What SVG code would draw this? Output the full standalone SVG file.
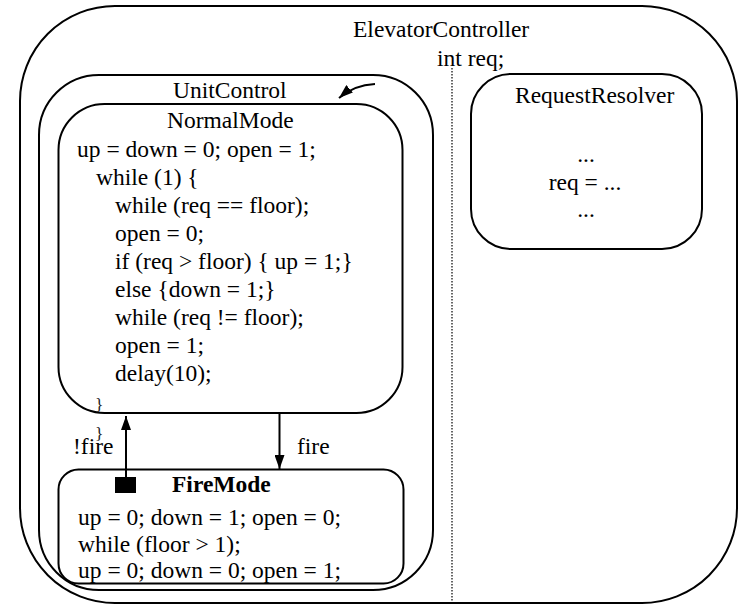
<svg xmlns="http://www.w3.org/2000/svg" width="738" height="604" viewBox="0 0 738 604">
<style>
.box{fill:none;stroke:#000;stroke-width:2}
.t{font-family:"Liberation Serif","Times New Roman",serif;font-size:23.5px;fill:#000}
.c{text-anchor:middle}
.b{font-weight:bold}
.br{font-family:"Liberation Serif","Times New Roman",serif;font-size:17.5px;fill:#222}
.ln{stroke:#000;stroke-width:2;fill:none}
</style>
<defs>
<marker id="ah" markerWidth="14" markerHeight="10" refX="14" refY="5" orient="auto" markerUnits="userSpaceOnUse">
<path d="M0,0 L14,5 L0,10 Z" fill="#000"/>
</marker>
</defs>
<rect width="738" height="604" fill="#fff"/>
<g id="ElevatorController">
<rect class="box" x="20" y="6" width="717" height="597" rx="95" ry="95"/>
<text class="t" x="353" y="37">ElevatorController</text>
<text class="t" x="437" y="66">int req;</text>
<line x1="452" y1="68" x2="452" y2="604" stroke="#000" stroke-width="1.2" stroke-dasharray="1.5,1.5"/>
</g>
<g id="UnitControl">
<rect class="box" x="39" y="75" width="394" height="515" rx="60" ry="60"/>
<text class="t" x="173" y="98">UnitControl</text>
</g>
<g id="NormalMode">
<rect class="box" x="58.5" y="104" width="344" height="309" rx="46" ry="46"/>
<text class="t" x="167" y="128">NormalMode</text>
<text class="t" x="77" y="157">up = down = 0; open = 1;</text>
<text class="t" x="96" y="185">while (1) {</text>
<text class="t" x="115" y="213">while (req == floor);</text>
<text class="t" x="115" y="241">open = 0;</text>
<text class="t" x="115" y="269">if (req &gt; floor) { up = 1;}</text>
<text class="t" x="115" y="297">else {down = 1;}</text>
<text class="t" x="115" y="325">while (req != floor);</text>
<text class="t" x="115" y="353">open = 1;</text>
<text class="t" x="115" y="381">delay(10);</text>
<text class="br" x="95" y="410">}</text>
<text class="br" x="95" y="439">}</text>
</g>
<g id="FireMode">
<rect class="box" x="58.5" y="469.5" width="345" height="114" rx="20" ry="20"/>
<text class="t b" x="172" y="492">FireMode</text>
<text class="t" x="78" y="525">up = 0; down = 1; open = 0;</text>
<text class="t" x="78" y="552">while (floor &gt; 1);</text>
<text class="t" x="78" y="578">up = 0; down = 0; open = 1;</text>
</g>
<g id="RequestResolver">
<rect class="box" x="471" y="74" width="231" height="175" rx="40" ry="40"/>
<text class="t" x="515" y="103">RequestResolver</text>
<text class="t c" x="586" y="162">...</text>
<text class="t c" x="585" y="190">req = ...</text>
<text class="t c" x="586" y="217">...</text>
</g>
<g id="connectors">
<path class="ln" d="M375,84 Q354,85 339,98" marker-end="url(#ah)"/>
<rect x="115" y="477" width="21" height="16" fill="#000"/>
<line class="ln" x1="126" y1="477" x2="126" y2="416" marker-end="url(#ah)"/>
<text class="t" x="73" y="454">!fire</text>
<line class="ln" x1="279.5" y1="413" x2="279.5" y2="469" marker-end="url(#ah)"/>
<text class="t" x="297" y="454">fire</text>
</g>
</svg>
